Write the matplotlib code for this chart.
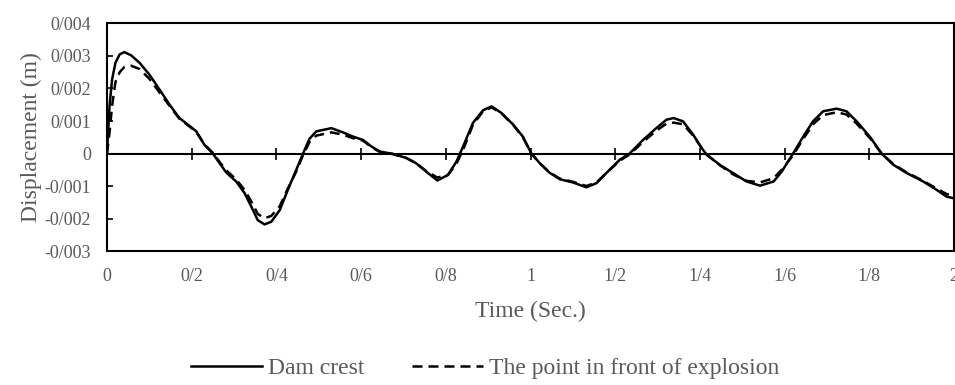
import numpy as np
import matplotlib.pyplot as plt

# Time (s) and displacement (x 1e-3 m)
time_s = [0, 0.006, 0.012, 0.02, 0.03, 0.041, 0.057, 0.077, 0.1, 0.124,
          0.148, 0.171, 0.191, 0.211, 0.23, 0.25, 0.266, 0.282, 0.305, 0.325,
          0.341, 0.356, 0.372, 0.388, 0.408, 0.427, 0.447, 0.463, 0.478, 0.494,
          0.53, 0.557, 0.581, 0.604, 0.624, 0.644, 0.675, 0.707, 0.73, 0.754,
          0.78, 0.805, 0.825, 0.841, 0.864, 0.888, 0.908, 0.931, 0.959, 0.982,
          1.002, 1.022, 1.045, 1.069, 1.1, 1.132, 1.156, 1.179, 1.211, 1.234,
          1.266, 1.297, 1.321, 1.338, 1.36, 1.384, 1.404, 1.416, 1.447, 1.478,
          1.51, 1.542, 1.574, 1.593, 1.62, 1.644, 1.667, 1.691, 1.723, 1.746,
          1.77, 1.801, 1.829, 1.857, 1.888, 1.927, 1.959, 1.983, 2.0]

dam_crest = [0, 1.45, 2.27, 2.79, 3.05, 3.12, 3.02, 2.79, 2.43, 1.97,
             1.50, 1.09, 0.89, 0.68, 0.27, 0, -0.30, -0.59, -0.86, -1.22,
             -1.64, -2.05, -2.18, -2.10, -1.74, -1.12, -0.50, 0, 0.45, 0.68,
             0.78, 0.65, 0.52, 0.42, 0.22, 0.06, -0.01, -0.14, -0.30, -0.56,
             -0.83, -0.66, -0.25, 0.22, 0.94, 1.33, 1.45, 1.25, 0.89, 0.52,
             0, -0.30, -0.59, -0.79, -0.89, -1.04, -0.91, -0.60, -0.19, 0,
             0.42, 0.78, 1.04, 1.09, 0.99, 0.58, 0.17, -0.04, -0.35, -0.60,
             -0.86, -0.99, -0.86, -0.56, 0, 0.52, 0.99, 1.30, 1.38, 1.30,
             0.99, 0.52, 0, -0.35, -0.60, -0.86, -1.12, -1.33, -1.38]

front_point = [0, 0.63, 1.45, 2.2, 2.5, 2.66, 2.70, 2.60, 2.3, 1.88,
               1.46, 1.07, 0.87, 0.66, 0.28, 0.02, -0.26, -0.52, -0.80, -1.12,
               -1.48, -1.86, -1.99, -1.92, -1.62, -1.08, -0.55, -0.05, 0.35, 0.55,
               0.65, 0.58, 0.47, 0.40, 0.20, 0.05, -0.02, -0.14, -0.30, -0.54,
               -0.74, -0.66, -0.32, 0.12, 0.88, 1.30, 1.42, 1.24, 0.88, 0.50,
               0, -0.30, -0.58, -0.77, -0.87, -1.00, -0.89, -0.60, -0.22, -0.03,
               0.36, 0.70, 0.92, 0.95, 0.90, 0.55, 0.17, -0.03, -0.36, -0.64,
               -0.84, -0.89, -0.76, -0.50, -0.05, 0.45, 0.90, 1.18, 1.27, 1.20,
               0.92, 0.48, 0, -0.33, -0.58, -0.84, -1.08, -1.25, -1.30]

x_ticks = [0, 0.2, 0.4, 0.6, 0.8, 1.0, 1.2, 1.4, 1.6, 1.8, 2.0]
x_labels = ["0", "0/2", "0/4", "0/6", "0/8", "1", "1/2", "1/4", "1/6", "1/8", "2"]
y_ticks = [-0.003, -0.002, -0.001, 0, 0.001, 0.002, 0.003, 0.004]
y_labels = ["-0/003", "-0/002", "-0/001", "0", "0/001", "0/002", "0/003", "0/004"]

plt.rcParams['font.family'] = ['Liberation Serif', 'DejaVu Serif']
grey = '#595959'

fig = plt.figure(figsize=(9.55, 3.85), dpi=100)
ax = fig.add_axes([0.112, 0.348, 0.887, 0.591])

t = np.array(time_s)
ax.plot(t, np.array(dam_crest) * 1e-3, color='black', lw=1.8,
        solid_joinstyle='round', label='Dam crest')
ax.plot(t, np.array(front_point) * 1e-3, color='black', lw=1.8, ls=(0, (4, 2.4)),
        label='The point in front of explosion')

ax.set_xlim(0, 2)
ax.set_ylim(-0.003, 0.004)
ax.set_xticks(x_ticks)
ax.set_xticklabels(x_labels)
ax.set_yticks(y_ticks)
ax.set_yticklabels(y_labels)
ax.tick_params(axis='x', length=0, pad=12, labelsize=13, labelcolor=grey)
ax.tick_params(axis='y', direction='in', length=4, width=1.2, pad=11.5,
               labelsize=13, labelcolor=grey)
for s in ax.spines.values():
    s.set_linewidth(1.5)

# horizontal axis crossing at zero, with its tick marks
zero_ax = ax.secondary_xaxis(3 / 7)
zero_ax.set_xticks(x_ticks)
zero_ax.tick_params(direction='inout', length=9, width=1.2, labelbottom=False,
                    labeltop=False)
zero_ax.spines['bottom'].set_linewidth(1.5)
zero_ax.spines['top'].set_visible(False)

ax.set_xlabel('Time (Sec.)', fontsize=17, color=grey, labelpad=12)
ax.set_ylabel('Displacement (m)', fontsize=17, color=grey, labelpad=2)

leg = fig.legend(loc='center', bbox_to_anchor=(0.508, 0.044), ncol=2,
                 frameon=False, fontsize=17, handlelength=3.0, columnspacing=2.0,
                 handletextpad=0.25, borderpad=0.1)
for txt in leg.get_texts():
    txt.set_color(grey)

fig.savefig('out.png', dpi=100)
